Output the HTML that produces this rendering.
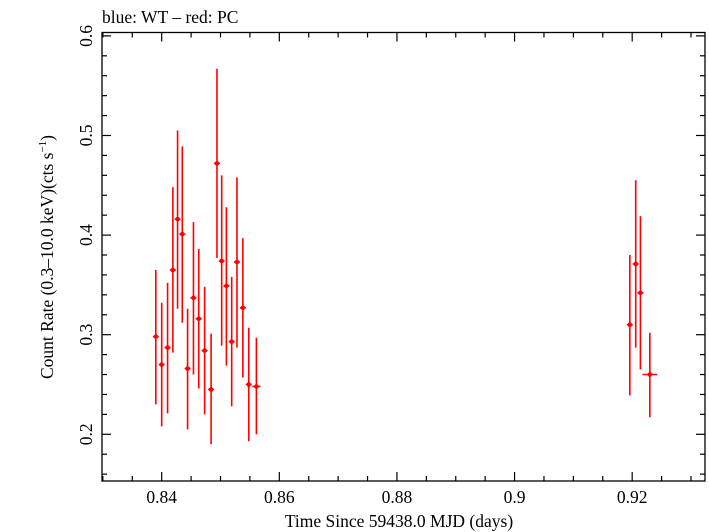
<!DOCTYPE html>
<html><head><meta charset="utf-8"><style>
html,body{margin:0;padding:0;background:#fff;}
svg{display:block;font-family:"Liberation Serif",serif;}
</style></head><body>
<svg id="chart" width="709" height="532" viewBox="0 0 709 532" xmlns="http://www.w3.org/2000/svg">
<text x="102" y="23" font-size="17.5">blue: WT – red: PC</text>
<text x="399" y="527" font-size="17.5" text-anchor="middle">Time Since 59438.0 MJD (days)</text>
<text transform="translate(53,257) rotate(-90)" font-size="17.5" text-anchor="middle">Count Rate (0.3–10.0 keV)(cts s<tspan font-size="11" dy="-7">−1</tspan><tspan dy="7">)</tspan></text>
<g id="axes"></g>
<g id="series"></g>
</svg>
<script>
const times = [0.8390,0.8400,0.8410,0.8419,0.8427,0.8435,0.8444,0.8454,0.8463,0.8473,0.8484,0.8494,0.8502,0.8510,0.8519,0.8528,0.8538,0.8548,0.8561,0.9196,0.9206,0.9214,0.9230];
const timeErr = [0.0005,0.0005,0.0005,0.0005,0.0005,0.0005,0.0005,0.0005,0.0005,0.0005,0.0005,0.0005,0.0005,0.0005,0.0005,0.0005,0.0005,0.0005,0.0007,0.0005,0.0005,0.0005,0.00125];
const rates = [0.298,0.270,0.287,0.365,0.416,0.401,0.266,0.337,0.316,0.284,0.245,0.472,0.374,0.349,0.293,0.373,0.327,0.250,0.248,0.310,0.371,0.342,0.260];
const rateHi = [0.365,0.332,0.352,0.448,0.505,0.489,0.326,0.413,0.386,0.348,0.301,0.567,0.460,0.428,0.358,0.458,0.397,0.307,0.297,0.380,0.455,0.419,0.302];
const rateLo = [0.230,0.208,0.221,0.282,0.326,0.312,0.205,0.260,0.246,0.220,0.190,0.377,0.289,0.269,0.228,0.287,0.257,0.193,0.200,0.239,0.287,0.265,0.217];
const xTicks = [0.84,0.86,0.88,0.9,0.92];
const xTickLabels = ["0.84","0.86","0.88","0.9","0.92"];
const yTicks = [0.2,0.3,0.4,0.5,0.6];
const yTickLabels = ["0.2","0.3","0.4","0.5","0.6"];

const L=102,R=705,T=32.5,B=481;
const xMin=0.82985,xMax=0.93238,yMin=0.1531,yMax=0.6034;
const xs=t=>L+(t-xMin)/(xMax-xMin)*(R-L);
const ys=v=>B-(v-yMin)/(yMax-yMin)*(B-T);
const NS="http://www.w3.org/2000/svg";
function mk(tag,attrs,parent){const e=document.createElementNS(NS,tag);for(const k in attrs)e.setAttribute(k,attrs[k]);parent.appendChild(e);return e;}
const ax=document.getElementById('axes');
const frame=mk('rect',{x:L,y:T,width:R-L,height:B-T,fill:'none',stroke:'#000','stroke-width':1.3},ax);


// minor x ticks
for(let i=0;;i++){const t=0.83+i*0.005;if(t>xMax)break;if(t<xMin)continue;
 const major=Math.abs(Math.round(t*100)%2)===0 && Math.abs(t*100-Math.round(t*100))<1e-6;
 const len=major?9:5;const x=xs(t);
 const a=mk('line',{x1:x,x2:x,y1:B,y2:B-len,stroke:'#000','stroke-width':1.2},ax);
 
 
 const b=mk('line',{x1:x,x2:x,y1:T,y2:T+len,stroke:'#000','stroke-width':1.2},ax);
 
 }
for(let i=0;;i++){const v=0.16+i*0.02;if(v>yMax)break;
 const major=Math.abs(v*10-Math.round(v*10))<1e-6;const len=major?9:5;const y=ys(v);
 const a=mk('line',{x1:L,x2:L+len,y1:y,y2:y,stroke:'#000','stroke-width':1.2},ax);
 
 
 const b=mk('line',{x1:R,x2:R-len,y1:y,y2:y,stroke:'#000','stroke-width':1.2},ax);
 
 }
xTicks.forEach((t,i)=>{const tx=mk('text',{x:xs(t),y:503,'font-size':17.5,'text-anchor':'middle'},ax);tx.textContent=xTickLabels[i];
 
 });
yTicks.forEach((v,i)=>{const y=ys(v);const tx=mk('text',{x:0,y:0,'font-size':17.5,'text-anchor':'middle',transform:`translate(92,${y}) rotate(-90)`},ax);tx.textContent=yTickLabels[i];
 
 });
const sg=document.getElementById('series');
times.forEach((t,i)=>{const g=mk('g',{},sg);
 
 
 const x=xs(t),y=ys(rates[i]);
 mk('line',{x1:x,x2:x,y1:ys(rateHi[i]),y2:ys(rateLo[i]),stroke:'#f00','stroke-width':1.6},g);
 mk('line',{x1:xs(t-timeErr[i]),x2:xs(t+timeErr[i]),y1:y,y2:y,stroke:'#f00','stroke-width':1.6},g);
 mk('circle',{cx:x,cy:y,r:2.3,fill:'#f00'},g);});
</script>
</body></html>
